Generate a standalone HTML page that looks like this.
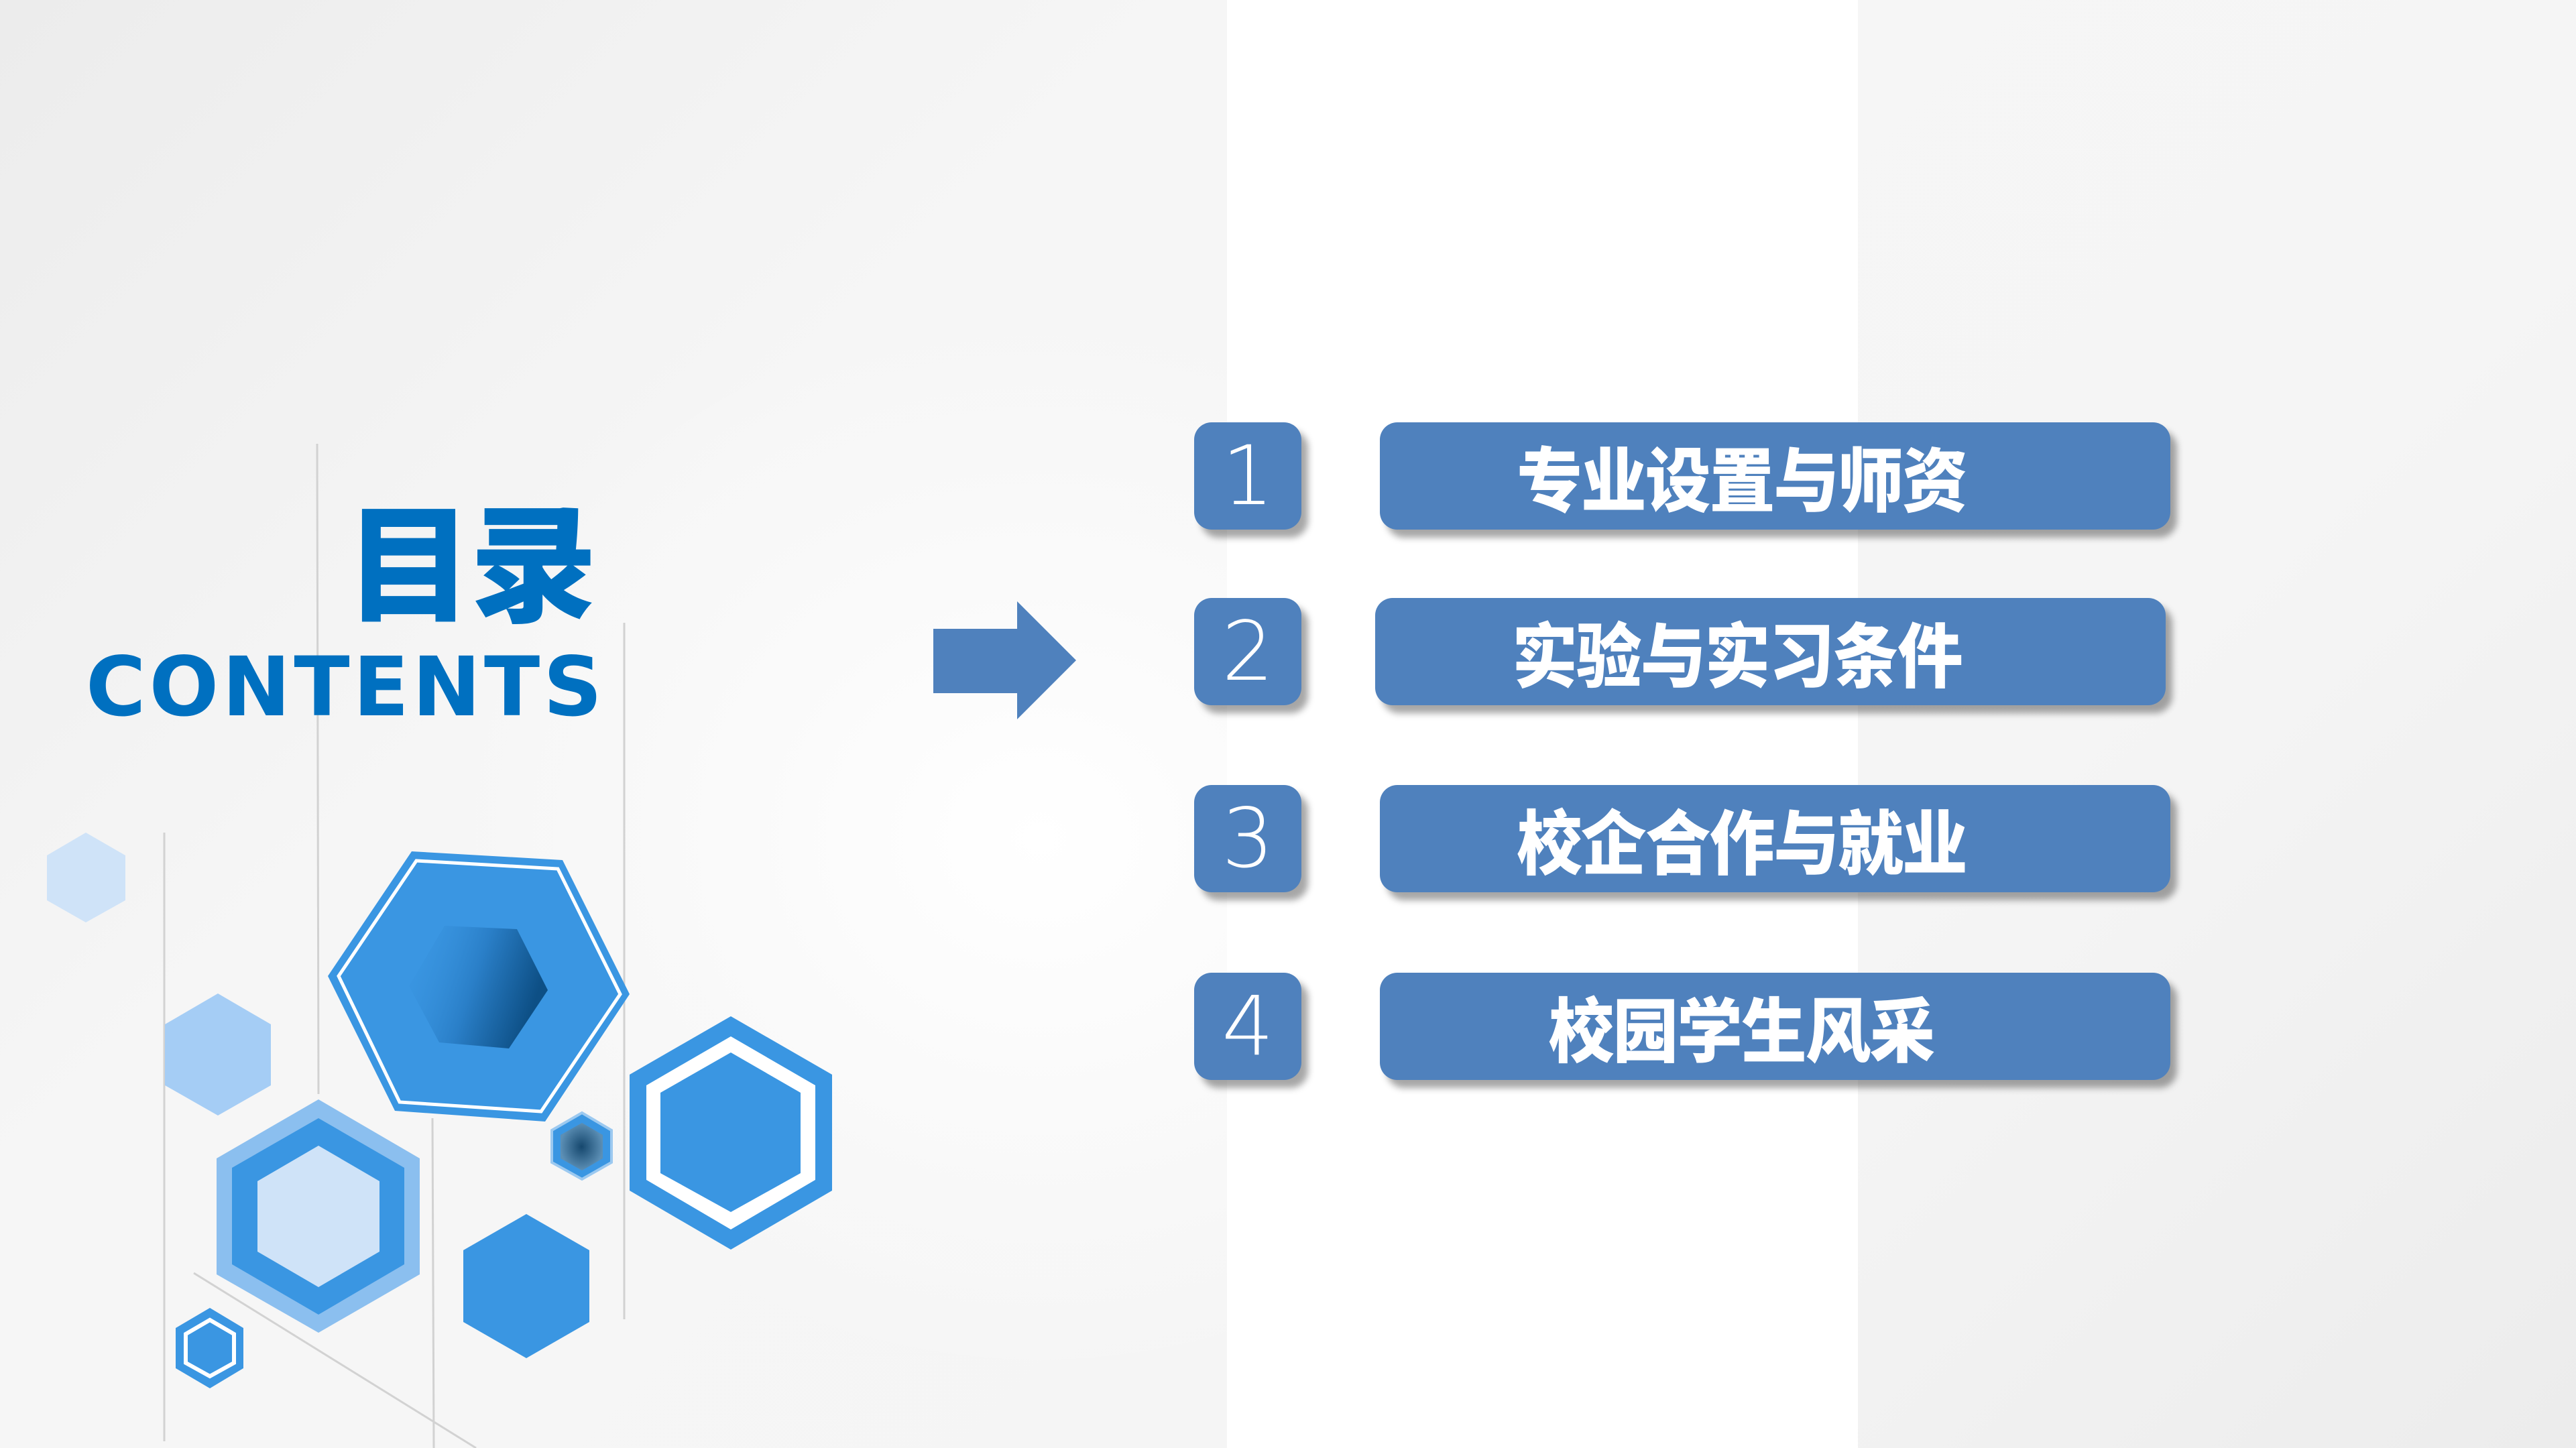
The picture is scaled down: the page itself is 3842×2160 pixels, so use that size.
<!DOCTYPE html>
<html><head><meta charset="utf-8"><style>
html,body{margin:0;padding:0}
body{width:3842px;height:2160px;position:relative;overflow:hidden;
background:radial-gradient(ellipse 900px 800px at 1550px 1250px,#ffffff 0%,#fafafa 50%,rgba(240,240,240,0) 100%),linear-gradient(135deg,#ececec 0%,#f6f6f6 30%,#f5f5f5 70%,#ececec 100%);}
.band{position:absolute;left:1830px;top:0;width:941px;height:2160px;background:#fff}
.num,.box{position:absolute;background:#4f81bd;border-radius:26px;box-shadow:10px 12px 10px rgba(0,0,0,.35);color:#fff;display:flex;align-items:center;justify-content:center;box-sizing:border-box}
.num{width:160px;height:160px;font-family:"DejaVu Sans","Liberation Sans",sans-serif;font-weight:200;font-size:122px;left:1781px}
.box{width:1179px;height:160px;font-family:"Liberation Sans","Noto Sans CJK SC",sans-serif;font-weight:900;font-size:105px;padding-right:100px}
.box span{display:inline-block;transform:scaleX(.93);letter-spacing:-2px}
.t1{position:absolute;left:515px;top:752px;font-family:"Liberation Sans","Noto Sans CJK SC",sans-serif;font-weight:900;font-size:190px;color:#0070c0;line-height:1;letter-spacing:-4px}
.t2{position:absolute;left:128px;top:964px;font-family:"DejaVu Sans","Liberation Sans",sans-serif;font-weight:bold;font-size:122px;color:#0070c0;line-height:1;letter-spacing:5px}
</style></head><body>
<div class="band"></div>
<svg width="3842" height="2160" style="position:absolute;left:0;top:0">
<defs>
<linearGradient id="dk" x1="0" y1="0" x2="1" y2="0.3"><stop offset="0" stop-color="#3a96e2" stop-opacity="0"/><stop offset="0.55" stop-color="#2a7fc8"/><stop offset="1" stop-color="#0d4f85"/></linearGradient>
<radialGradient id="dk2"><stop offset="0" stop-color="#16486e"/><stop offset="1" stop-color="#5c8fb5"/></radialGradient>
</defs>
<g stroke="#d2d2d2" stroke-width="3" fill="none">
<line x1="473" y1="662" x2="475" y2="1632"/>
<line x1="931" y1="929" x2="931" y2="1968"/>
<line x1="245" y1="1242" x2="245" y2="2150"/>
<line x1="645" y1="1668" x2="647" y2="2160"/>
<line x1="289" y1="1899" x2="710" y2="2160"/>
</g>
<polygon points="128,1242 187,1276 187,1343 128,1376 70,1343 70,1276" fill="#cfe3f8"/>
<polygon points="325,1482 404,1528 404,1619 325,1664 246,1619 246,1528" fill="#a5cdf5"/>
<polygon points="475,1640 626,1728 626,1901 475,1988 323,1901 323,1728" fill="#8bbfef"/>
<polygon points="475,1668 603,1742 603,1886 475,1961 346,1886 346,1742" fill="#3a96e2"/>
<polygon points="475,1709 566,1762 566,1867 475,1920 384,1867 384,1762" fill="#cfe3f8"/>
<polygon points="489,1456 614,1270 839,1283 939,1483 813,1673 589,1657" fill="#3a96e2"/>
<polygon points="505,1456 621,1284 832,1296 925,1483 807,1658 596,1644" fill="none" stroke="#fff" stroke-width="5"/>
<polygon points="663,1381 771,1386 817,1477 759,1564 655,1555 610,1471" fill="url(#dk)"/>
<polygon points="868,1660 912,1686 912,1734 868,1759 823,1734 823,1686" fill="#3a96e2" stroke="#9cc9f0" stroke-width="4"/>
<polygon points="868,1675 899,1693 899,1728 868,1746 836,1728 836,1693" fill="url(#dk2)"/>
<polygon points="785,1811 879,1865 879,1972 785,2026 691,1972 691,1865" fill="#3a96e2"/>
<polygon points="1090,1516 1241,1603 1241,1776 1090,1864 939,1776 939,1603" fill="#3a96e2"/>
<polygon points="1090,1546 1216,1619 1216,1760 1090,1834 964,1760 964,1619" fill="#fff"/>
<polygon points="1090,1570 1194,1630 1194,1750 1090,1808 985,1750 985,1630" fill="#3a96e2"/>
<polygon points="313,1951 363,1981 363,2041 313,2071 262,2041 262,1981" fill="#3a96e2"/>
<polygon points="313,1969 349,1990 349,2033 313,2053 277,2033 277,1990" fill="none" stroke="#fff" stroke-width="6"/>
<polygon points="1392,938 1517,938 1517,897 1605,985 1517,1073 1517,1034 1392,1034" fill="#4f81bd"/>
</svg>
<div class="t1">目录</div>
<div class="t2">CONTENTS</div>
<div class="num" style="top:630px">1</div>
<div class="num" style="top:892px">2</div>
<div class="num" style="top:1171px">3</div>
<div class="num" style="top:1451px">4</div>
<div class="box" style="left:2058px;top:630px"><span>专业设置与师资</span></div>
<div class="box" style="left:2051px;top:892px"><span>实验与实习条件</span></div>
<div class="box" style="left:2058px;top:1171px"><span>校企合作与就业</span></div>
<div class="box" style="left:2058px;top:1451px"><span>校园学生风采</span></div>
</body></html>
